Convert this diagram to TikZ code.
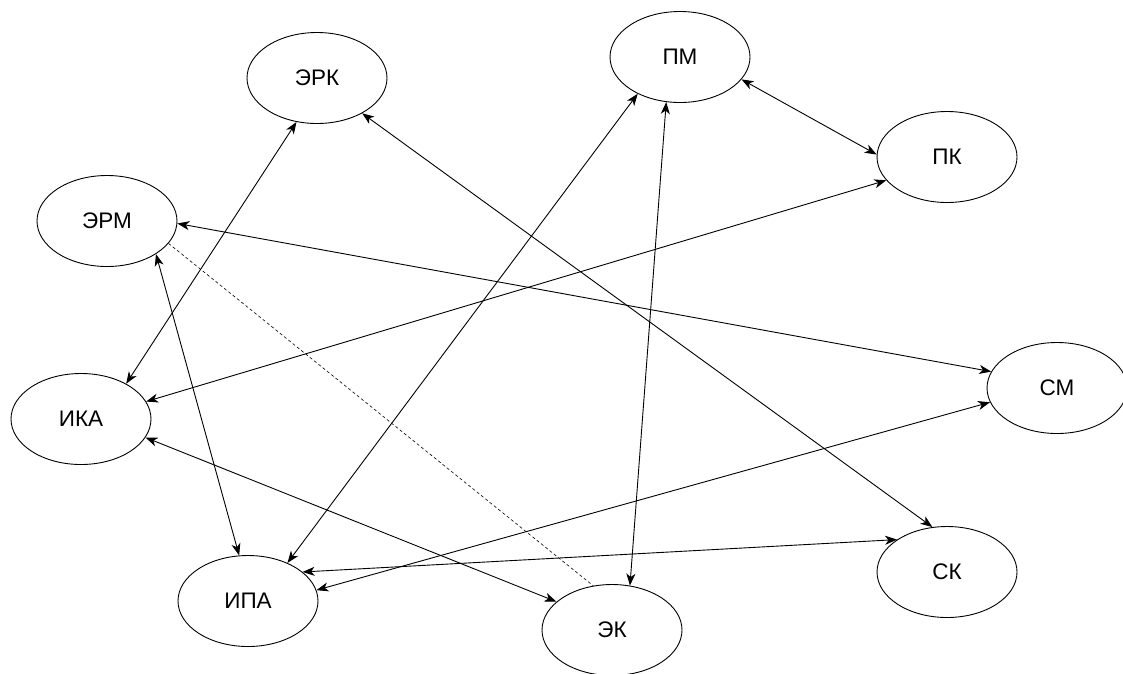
\documentclass[tikz,border=0pt]{standalone}
\usepackage{fontspec}
\setmainfont{Liberation Sans}
\usetikzlibrary{shapes.geometric,arrows.meta}
\begin{document}
\begin{tikzpicture}[x=1pt,y=-1pt,
  st/.style={ellipse,draw,line width=0.9pt,minimum width=140pt,minimum height=91pt,inner sep=0pt,font=\fontsize{22.5}{26}\selectfont},
  link/.style={line width=0.9pt,{Stealth[length=12pt,width=9pt,inset=3.5pt]}-{Stealth[length=12pt,width=9pt,inset=3.5pt]}},
  dotlink/.style={line width=0.6pt,dash pattern=on 3pt off 2.5pt}]
\useasboundingbox (0,0) rectangle (1123,673);
\node[st] (erk) at (317,78) {ЭРК};
\node[st] (pm) at (680,57) {ПМ};
\node[st] (pk) at (947,157) {ПК};
\node[st] (erm) at (107,221) {ЭРМ};
\node[st] (sm) at (1057,388) {СМ};
\node[st] (ika) at (81,419) {ИКА};
\node[st] (ipa) at (248,601) {ИПА};
\node[st] (sk) at (947,572) {СК};
\node[st] (ek) at (612,630) {ЭК};
\draw[link] (erk.245) -- (ika.38);
\draw[link] (erk.322) -- (sk.108);
\draw[link] (pm.340) -- (pk.178);
\draw[link] (pm.221.5) -- (ipa.44);
\draw[link] (pm.253) -- (ek.68);
\draw[link] (pk.201) -- (ika.15);
\draw[link] (erm.358) -- (sm.166);
\draw[link] (erm.326) -- (ipa.101);
\draw[dotlink] (erm.340) -- (ek.113);
\draw[link] (ika.344) -- (ek.153);
\draw[link] (sm.192) -- (ipa.9);
\draw[link] (ipa.28) -- (sk.147);
\end{tikzpicture}
\end{document}
